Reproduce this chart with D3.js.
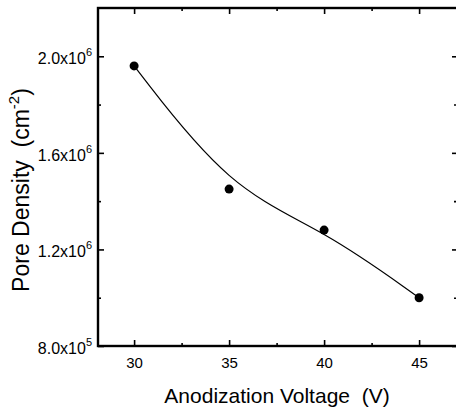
<!DOCTYPE html>
<html>
<head>
<meta charset="utf-8">
<script src="https://cdn.jsdelivr.net/npm/d3@7"></script>
<style>
  body { margin: 0; background: #fff; }
  text { font-family: "Liberation Sans", Arial, sans-serif; fill: #000; white-space: pre; }
</style>
</head>
<body>
<div id="chart"></div>
<script>
// data
var voltage = [30, 35, 40, 45]
var density = [1.96e6, 1.45e6, 1.28e6, 1.0e6]

var xTicks = [30, 35, 40, 45]
var xMinor = [32.5, 37.5, 42.5]
var yTicks = [8.0e5, 1.2e6, 1.6e6, 2.0e6]
var yTickMant = ["8.0", "1.2", "1.6", "2.0"]
var yTickExp = ["5", "6", "6", "6"]
var yMinor = [1.0e6, 1.4e6, 1.8e6]

var width = 456, height = 408
var pLeft = 98, pRight = 459, pTop = 8, pBottom = 346

var svg = d3.select("#chart").append("svg")
  .attr("width", width)
  .attr("height", height)

var x = d3.scaleLinear().domain([28.1, 47.1]).range([pLeft, pRight])
var y = d3.scaleLinear().domain([8.0e5, 2.2e6]).range([pBottom, pTop])

// frame (right side runs just past the picture edge)
svg.append("rect")
  .attr("x", pLeft).attr("y", pTop)
  .attr("width", pRight - pLeft).attr("height", pBottom - pTop)
  .attr("fill", "none").attr("stroke", "#000").attr("stroke-width", 2.4)

// major ticks on all four sides, pointing in
var bottomAxis = svg.append("g").attr("transform", "translate(0," + pBottom + ")")
  .call(d3.axisBottom(x).tickValues(xTicks).tickSizeInner(-6).tickSizeOuter(0).tickPadding(11))
svg.append("g").attr("transform", "translate(0," + pTop + ")")
  .call(d3.axisTop(x).tickValues(xTicks).tickSizeInner(-6).tickSizeOuter(0).tickFormat(""))
svg.append("g").attr("transform", "translate(" + pLeft + ",0)")
  .call(d3.axisLeft(y).tickValues(yTicks).tickSizeInner(-6).tickSizeOuter(0).tickFormat(""))
svg.append("g").attr("transform", "translate(" + (pRight - 2) + ",0)")
  .call(d3.axisRight(y).tickValues(yTicks).tickSizeInner(-5).tickSizeOuter(0).tickFormat(""))

// minor ticks
svg.append("g").attr("transform", "translate(0," + pBottom + ")")
  .call(d3.axisBottom(x).tickValues(xMinor).tickSizeInner(-3).tickSizeOuter(0).tickFormat(""))
svg.append("g").attr("transform", "translate(0," + pTop + ")")
  .call(d3.axisTop(x).tickValues(xMinor).tickSizeInner(-3).tickSizeOuter(0).tickFormat(""))
svg.append("g").attr("transform", "translate(" + pLeft + ",0)")
  .call(d3.axisLeft(y).tickValues(yMinor).tickSizeInner(-3).tickSizeOuter(0).tickFormat(""))
svg.append("g").attr("transform", "translate(" + (pRight - 2) + ",0)")
  .call(d3.axisRight(y).tickValues(yMinor).tickSizeInner(-3).tickSizeOuter(0).tickFormat(""))

svg.selectAll(".domain").remove()
svg.selectAll(".tick line").attr("stroke", "#000").attr("stroke-width", 1.6)

bottomAxis.selectAll("text")
  .style("font-size", "15px")
  .style("font-family", "Liberation Sans, Arial, sans-serif")

// y tick labels with superscript exponents
svg.selectAll("yLabels")
  .data(yTicks)
  .enter()
  .append("text")
    .attr("x", pLeft - 6)
    .attr("y", function(d) { return y(d) + 8 })
    .attr("text-anchor", "end")
    .style("font-size", "16px")
    .each(function(d, i) {
      var t = d3.select(this)
      t.append("tspan").text(yTickMant[i] + "x10")
      t.append("tspan").attr("dy", -8).style("font-size", "11px").text(yTickExp[i])
    })

// smooth curve
var line = d3.line()
  .x(function(d, i) { return x(voltage[i]) })
  .y(function(d) { return y(d) })
  .curve(d3.curveBasis)

svg.append("path")
  .datum(density)
  .attr("d", line)
  .attr("fill", "none")
  .attr("stroke", "#000")
  .attr("stroke-width", 1.2)

// points
svg.selectAll("dots")
  .data(density)
  .enter()
  .append("circle")
    .attr("cx", function(d, i) { return x(voltage[i]) })
    .attr("cy", function(d) { return y(d) })
    .attr("r", 4.5)
    .attr("fill", "#000")

// axis titles
svg.append("text")
  .attr("x", 277)
  .attr("y", 403)
  .attr("text-anchor", "middle")
  .style("font-size", "21px")
  .text("Anodization Voltage  (V)")

var yTitle = svg.append("text")
  .attr("transform", "translate(29,190) rotate(-90)")
  .attr("text-anchor", "middle")
  .style("font-size", "23px")
yTitle.append("tspan").text("Pore Density  (cm")
yTitle.append("tspan").attr("dy", -10).style("font-size", "15px").text("-2")
yTitle.append("tspan").attr("dy", 10).text(")")
</script>
</body>
</html>
